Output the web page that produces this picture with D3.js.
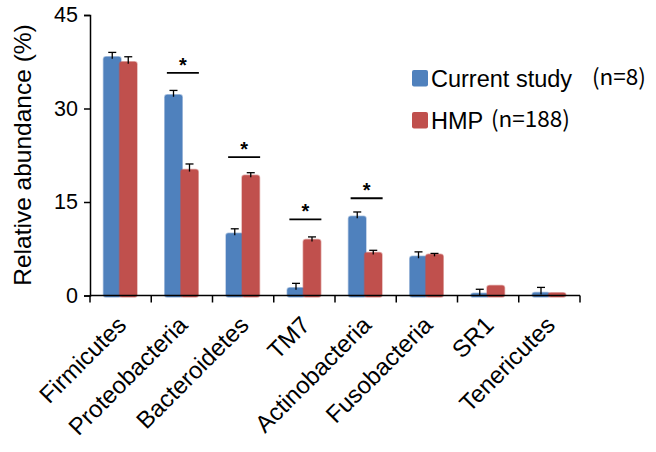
<!DOCTYPE html>
<html>
<head>
<meta charset="utf-8">
<script src="https://cdn.jsdelivr.net/npm/d3@7"></script>
<style>
  body { margin: 0; background: #fff; }
  text { font-family: "Liberation Sans", Arial, sans-serif; fill: #000; }
</style>
</head>
<body>
<div class="chart"></div>
<script>
var svgWidth = 656;
var svgHeight = 452;

var margin = { top: 15, right: 76, bottom: 156.5, left: 90 };
var width = svgWidth - margin.left - margin.right;
var height = svgHeight - margin.top - margin.bottom;

// data
var phyla = ["Firmicutes", "Proteobacteria", "Bacteroidetes", "TM7",
             "Actinobacteria", "Fusobacteria", "SR1", "Tenericutes"];
var currentStudy = [38.3, 32.2, 10.0, 1.25, 12.7, 6.3, 0.35, 0.5];
var currentErr   = [0.7, 0.7, 0.7, 0.7, 0.7, 0.7, 0.65, 0.8];
var hmp          = [37.5, 20.2, 19.3, 9.0, 6.9, 6.6, 1.6, 0.45];
var hmpErr       = [0.8, 0.9, 0.4, 0.4, 0.35, 0.15, 0.0, 0.0];
var yTicks = [0, 15, 30, 45];
// significance markers: category index and height of the bar line
var sigIndex = [1, 2, 3, 4];
var sigLevel = [35.7, 22.2, 12.2, 15.6];

var seriesNames = ["Current study", "HMP"];
var seriesN = ["(n=8)", "(n=188)"];
var colors = ["#4F81BD", "#C0504D"];

var svg = d3.select(".chart").append("svg")
  .attr("width", svgWidth)
  .attr("height", svgHeight);

var chartGroup = svg.append("g")
  .attr("transform", `translate(${margin.left}, ${margin.top})`);

var xScale = d3.scaleBand()
  .domain(phyla)
  .range([0, width]);

var yScale = d3.scaleLinear()
  .domain([0, 45])
  .range([height, 0]);

var barW = 17.5;
var barOffset = [13.5, 29.5];

var series = [
  { values: currentStudy, err: currentErr },
  { values: hmp, err: hmpErr }
];

series.forEach(function(s, si) {
  var g = chartGroup.append("g");
  g.selectAll("rect")
    .data(phyla)
    .enter()
    .append("rect")
    .attr("x", d => xScale(d) + barOffset[si])
    .attr("y", (d, i) => yScale(s.values[i]))
    .attr("width", barW)
    .attr("height", (d, i) => height - yScale(s.values[i]) + 1.5)
    .attr("rx", 2.5)
    .attr("fill", colors[si])
    .attr("stroke", colors[si])
    .attr("stroke-opacity", 0.45)
    .attr("stroke-width", 1.5);

  // error bars (plus only)
  var eg = chartGroup.append("g");
  phyla.forEach(function(p, i) {
    if (s.err[i] <= 0) return;
    var cx = xScale(p) + barOffset[si] + barW / 2;
    var y0 = yScale(s.values[i]);
    var y1 = yScale(s.values[i] + s.err[i]);
    eg.append("line")
      .attr("x1", cx).attr("x2", cx)
      .attr("y1", y0 + 2).attr("y2", y1)
      .attr("stroke", "#000").attr("stroke-width", 1.3);
    eg.append("line")
      .attr("x1", cx - 4).attr("x2", cx + 4)
      .attr("y1", y1).attr("y2", y1)
      .attr("stroke", "#000").attr("stroke-width", 1.3);
  });
});

// axes
var leftAxis = d3.axisLeft(yScale).tickValues(yTicks).tickSize(6).tickPadding(6);
var yAxis = chartGroup.append("g").call(leftAxis);
yAxis.select(".domain").attr("stroke-width", 1.5);
yAxis.selectAll(".tick line").attr("stroke-width", 1.5);
yAxis.selectAll("text")
  .style("font-size", "21.5px");

var xAxisG = chartGroup.append("g")
  .attr("transform", `translate(0, ${height})`);
xAxisG.append("line")
  .attr("x1", 0).attr("x2", width)
  .attr("stroke", "#000").attr("stroke-width", 1.5);
var bounds = phyla.map(d => xScale(d)).concat([width]);
xAxisG.selectAll(".xtick")
  .data(bounds)
  .enter()
  .append("line")
  .attr("x1", d => d).attr("x2", d => d)
  .attr("y1", 0).attr("y2", 7)
  .attr("stroke", "#000").attr("stroke-width", 1.5);

xAxisG.selectAll(".xlabel")
  .data(phyla)
  .enter()
  .append("text")
  .attr("transform", d => `translate(${xScale(d) + xScale.bandwidth() / 2 + 7}, 31) rotate(-45)`)
  .attr("text-anchor", "end")
  .style("font-size", "24px")
  .text(d => d);

// significance markers
sigIndex.forEach(function(ci, k) {
  var cx = xScale(phyla[ci]) + xScale.bandwidth() / 2 + 1;
  var y = yScale(sigLevel[k]);
  chartGroup.append("line")
    .attr("x1", cx - 16).attr("x2", cx + 16)
    .attr("y1", y).attr("y2", y)
    .attr("stroke", "#000").attr("stroke-width", 1.8);
  chartGroup.append("text")
    .attr("x", cx).attr("y", y - 1)
    .attr("text-anchor", "middle")
    .style("font-size", "20px")
    .style("font-weight", "bold")
    .text("*");
});

// y label
svg.append("text")
  .attr("transform", "translate(31, 155) rotate(-90)")
  .attr("text-anchor", "middle")
  .style("font-size", "24.5px")
  .text("Relative abundance (%)");

// legend
var legend = svg.append("g");
var legendY = [70, 112];
var nX = [592, 491];
seriesNames.forEach(function(name, i) {
  legend.append("rect")
    .attr("x", 412).attr("y", legendY[i])
    .attr("width", 16).attr("height", 16.5)
    .attr("rx", 2)
    .attr("fill", colors[i]);
  legend.append("text")
    .attr("x", 431).attr("y", legendY[i] + 16.5)
    .style("font-size", "23.5px")
    .text(name);
  legend.append("text")
    .attr("x", nX[i]).attr("y", legendY[i] + 15)
    .style("font-size", "22.5px")
    .style("font-family", "Noto Sans CJK SC, sans-serif")
    .text(seriesN[i]);
});
</script>
</body>
</html>
